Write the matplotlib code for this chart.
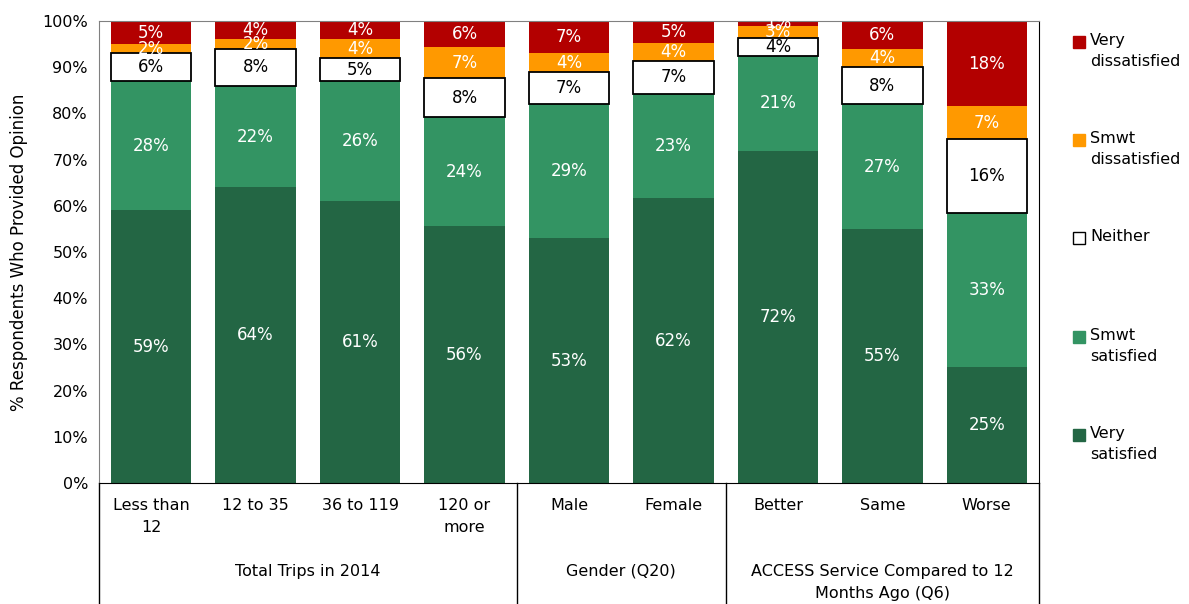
import matplotlib.pyplot as plt
from matplotlib.patches import Rectangle
import numpy as np

# categories and groups
categories = ["Less than\n12", "12 to 35", "36 to 119", "120 or\nmore",
              "Male", "Female", "Better", "Same", "Worse"]
groups = ["Total Trips in 2014", "Gender (Q20)",
          "ACCESS Service Compared to 12\nMonths Ago (Q6)"]
group_sizes = [4, 2, 3]

# segment values (%), bottom to top
very_satisfied = [59, 64, 61, 55.6, 53, 61.6, 71.9, 55, 25.1]
smwt_satisfied = [28, 22, 26, 23.6, 29, 22.7, 20.6, 27, 33.3]
neither = [6, 8, 5, 8.4, 7, 7.1, 3.9, 8, 16.0]
smwt_dissatisfied = [2, 2, 4, 6.8, 4, 3.9, 2.6, 4, 7.1]
very_dissatisfied = [5, 4, 4, 5.6, 7, 4.7, 1.0, 6, 18.5]

series = [very_satisfied, smwt_satisfied, neither, smwt_dissatisfied, very_dissatisfied]
names = ["Very\nsatisfied", "Smwt\nsatisfied", "Neither", "Smwt\ndissatisfied", "Very\ndissatisfied"]
colors = ["#236644", "#339463", "#ffffff", "#ff9900", "#b30000"]
txtcol = ["white", "white", "black", "white", "white"]

plt.rcParams['font.family'] = 'DejaVu Sans'
fig = plt.figure(figsize=(11.89, 6.04), dpi=100)
ax = fig.add_axes([99/1189, 121/604, 940/1189, 462/604])

x = np.arange(len(categories))
bottom = np.zeros(len(categories))
for vals, col, tc in zip(series, colors, txtcol):
    vals = np.array(vals, dtype=float)
    if col == "#ffffff":
        ax.bar(x, vals, 0.77, bottom=bottom, color=col, edgecolor="black", linewidth=1.3, zorder=3)
    else:
        ax.bar(x, vals, 0.77, bottom=bottom, color=col, zorder=2)
    for xi, b, v in zip(x, bottom, vals):
        ax.text(xi, b + v / 2, "%d%%" % round(v), ha="center", va="center",
                color=tc, fontsize=12, zorder=4)
    bottom += vals

ax.set_xlim(-0.5, len(categories) - 0.5)
ax.set_ylim(0, 100)
ax.set_yticks(range(0, 101, 10))
ax.set_yticklabels(["%d%%" % v for v in range(0, 101, 10)], fontsize=11.5)
ax.tick_params(axis="y", length=0, pad=8)
ax.set_xticks([])
ax.set_ylabel("% Respondents Who Provided Opinion", fontsize=12, labelpad=10)
for s in ["left", "top"]:
    ax.spines[s].set_color("#808080")
ax.spines["right"].set_color("black")
ax.spines["bottom"].set_color("black")

# category labels
for xi, c in zip(x, categories):
    ax.text(xi, -0.032, c, transform=ax.get_xaxis_transform(), ha="center", va="top",
            fontsize=11.5, linespacing=1.6)

# group labels and separators
start = -0.5
ax.plot([start, start], [0, -0.265], transform=ax.get_xaxis_transform(),
        color="black", lw=1, clip_on=False)
for g, n in zip(groups, group_sizes):
    end = start + n
    ax.plot([end, end], [0, -0.265], transform=ax.get_xaxis_transform(),
            color="black", lw=1, clip_on=False)
    ax.text((start + end) / 2, -0.175, g, transform=ax.get_xaxis_transform(),
            ha="center", va="top", fontsize=11.5, linespacing=1.6)
    start = end

# legend drawn by hand, top entry first
leg_y = [42, 140, 238, 337, 435]
for yy, nm, col in zip(leg_y, names[::-1], colors[::-1]):
    fig.add_artist(Rectangle((1073/1189, 1 - (yy + 6)/604), 12/1189, 12/604,
                             transform=fig.transFigure, facecolor=col,
                             edgecolor="black" if col == "#ffffff" else col, lw=1))
    fig.text(1090/1189, 1 - (yy - 9)/604, nm, ha="left", va="top",
             fontsize=11.5, linespacing=1.5)

fig.savefig("out.png", dpi=100)
